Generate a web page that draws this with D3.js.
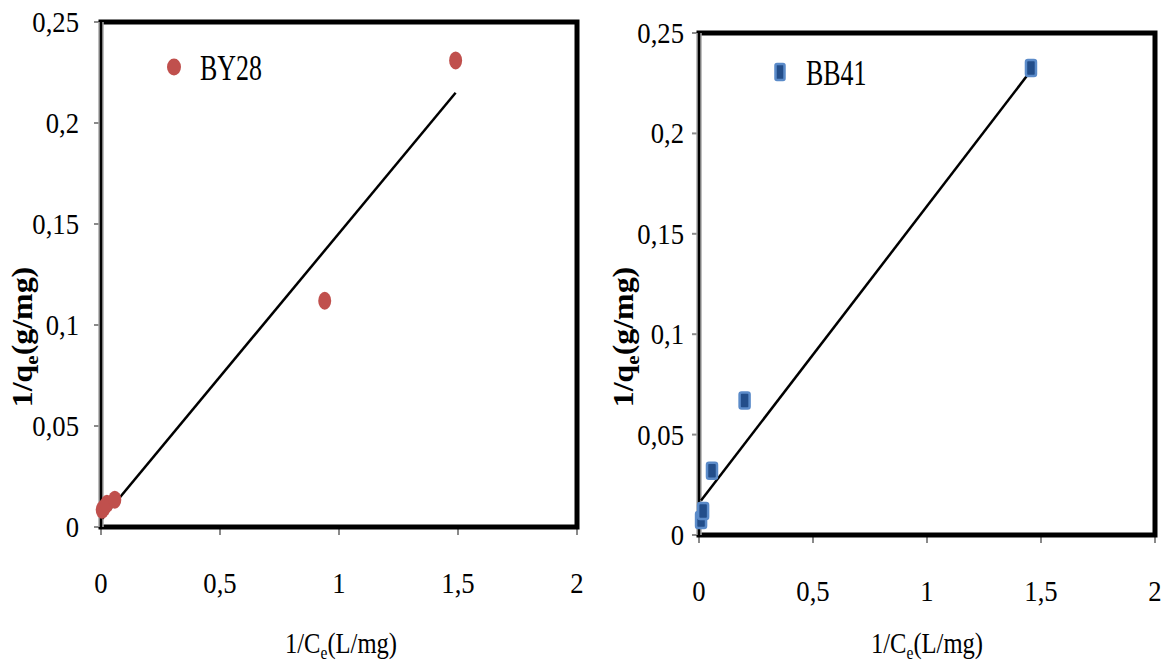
<!DOCTYPE html>
<html>
<head>
<meta charset="utf-8">
<script src="https://cdn.jsdelivr.net/npm/d3@7"></script>
<style>
  body { margin: 0; background: #fff; }
  svg { display: block; font-family: "Liberation Serif", "Times New Roman", serif; }
</style>
</head>
<body>
<div id="chart"></div>
<script>
// Data
const by28X = [0.005, 0.012, 0.025, 0.058, 0.94, 1.49];
const by28Y = [0.0085, 0.0095, 0.0115, 0.0135, 0.112, 0.231];
const bb41X = [0.009, 0.018, 0.057, 0.20, 1.456];
const bb41Y = [0.0075, 0.012, 0.032, 0.067, 0.2326];

// Linear fits (slope, intercept) per series
const fitSlope = [0.142, 0.148];
const fitIntercept = [0.0034, 0.0158];

const seriesNames = ["BY28", "BB41"];
const xTicks = [0, 0.5, 1, 1.5, 2];
const yTicks = [0, 0.05, 0.1, 0.15, 0.2, 0.25];

const locale = d3.formatLocale({ decimal: ",", thousands: ".", grouping: [3], currency: ["", ""] });
const fmt = locale.format("~g");

const svg = d3.select("#chart")
    .append("svg")
    .attr("width", 1168)
    .attr("height", 671);

// Panel geometry
const panels = [
    { x: by28X, y: by28Y, name: seriesNames[0], marker: "circle",
      left: 101, right: 577, top: 22, bottom: 527,
      yLabGap: 22, xLabY: 593, legX: 174, legY: 67, titleX: 341, yTitleX: 32 },
    { x: bb41X, y: bb41Y, name: seriesNames[1], marker: "square",
      left: 699, right: 1155, top: 33, bottom: 535,
      yLabGap: 15, xLabY: 601, legX: 780, legY: 72, titleX: 927, yTitleX: 633 }
];

// helper for horizontally squeezed text
function addText(parent, x, y, sx, anchor) {
    return parent.append("g")
        .attr("transform", `translate(${x},${y}) scale(${sx},1)`)
        .append("text")
        .attr("text-anchor", anchor);
}

panels.forEach((p, i) => {
    const xScale = d3.scaleLinear().domain([0, 2]).range([p.left, p.right]);
    const yScale = d3.scaleLinear().domain([0, 0.25]).range([p.bottom, p.top]);

    const g = svg.append("g");

    // Tick marks (gray, outside)
    g.selectAll(".yt").data(yTicks).enter().append("line")
        .attr("x1", p.left - 7).attr("x2", p.left)
        .attr("y1", d => yScale(d)).attr("y2", d => yScale(d))
        .attr("stroke", "#8a8a8a").attr("stroke-width", 2);
    g.selectAll(".xt").data(xTicks).enter().append("line")
        .attr("x1", d => xScale(d)).attr("x2", d => xScale(d))
        .attr("y1", p.bottom).attr("y2", p.bottom + 8)
        .attr("stroke", "#8a8a8a").attr("stroke-width", 2);

    // Frame
    g.append("rect")
        .attr("x", p.left).attr("y", yScale(0.25))
        .attr("width", xScale(2) - xScale(0))
        .attr("height", yScale(0) - yScale(0.25))
        .attr("fill", "none")
        .attr("stroke", "#000")
        .attr("stroke-width", 5);
    // left edge thinner
    g.append("line")
        .attr("x1", p.left).attr("x2", p.left)
        .attr("y1", yScale(0.25)).attr("y2", yScale(0))
        .attr("stroke", "#fff").attr("stroke-width", 5);
    g.append("line")
        .attr("x1", p.left).attr("x2", p.left)
        .attr("y1", yScale(0.25) - 2).attr("y2", yScale(0))
        .attr("stroke", "#000").attr("stroke-width", 3);

    // Tick labels
    yTicks.forEach(t => {
        addText(g, p.left - p.yLabGap, yScale(t) + 10, 0.92, "end")
            .attr("font-size", 29)
            .text(fmt(t));
    });
    xTicks.forEach(t => {
        addText(g, xScale(t), p.xLabY, 0.92, "middle")
            .attr("font-size", 29)
            .text(fmt(t));
    });

    // Axis titles
    const xt = addText(g, p.titleX, 653, 0.82, "middle").attr("font-size", 30);
    xt.append("tspan").text("1/C");
    xt.append("tspan").attr("font-size", 19).attr("dy", 6).text("e");
    xt.append("tspan").attr("dy", -6).text("(L/mg)");

    const yt = g.append("g")
        .attr("transform", `translate(${p.yTitleX},337) rotate(-90) scale(1.1,1)`)
        .append("text")
        .attr("text-anchor", "middle")
        .attr("font-size", 29)
        .attr("font-weight", "bold");
    yt.append("tspan").text("1/q");
    yt.append("tspan").attr("font-size", 19).attr("dy", 6).text("e");
    yt.append("tspan").attr("dy", -6).text("(g/mg)");

    // Fit line across the data range
    const xr = d3.extent(p.x);
    g.append("line")
        .attr("x1", xScale(xr[0])).attr("y1", yScale(fitSlope[i] * xr[0] + fitIntercept[i]))
        .attr("x2", xScale(xr[1])).attr("y2", yScale(fitSlope[i] * xr[1] + fitIntercept[i]))
        .attr("stroke", "#000")
        .attr("stroke-width", 2.5);

    // Markers
    const pts = p.x.map((v, k) => ({ x: v, y: p.y[k] }));
    if (p.marker === "circle") {
        g.selectAll(".pt").data(pts).enter().append("ellipse")
            .attr("cx", d => xScale(d.x)).attr("cy", d => yScale(d.y))
            .attr("rx", 6.5).attr("ry", 9)
            .attr("fill", "#C0504D");
        g.append("ellipse")
            .attr("cx", p.legX).attr("cy", p.legY)
            .attr("rx", 7).attr("ry", 8.5)
            .attr("fill", "#C0504D");
    } else {
        g.selectAll(".pt").data(pts).enter().append("rect")
            .attr("x", d => xScale(d.x) - 5).attr("y", d => yScale(d.y) - 8)
            .attr("width", 10).attr("height", 16).attr("rx", 2)
            .attr("fill", "#234E8A")
            .attr("stroke", "#5B8BC9").attr("stroke-width", 2.5);
        g.append("rect")
            .attr("x", p.legX - 4.5).attr("y", p.legY - 8)
            .attr("width", 9).attr("height", 16).attr("rx", 1.5)
            .attr("fill", "#234E8A")
            .attr("stroke", "#5B8BC9").attr("stroke-width", 2.5);
    }

    // Legend text
    addText(g, p.legX + 26, p.legY + 13, 0.72, "start")
        .attr("font-size", 36)
        .text(p.name);
});
</script>
</body>
</html>
